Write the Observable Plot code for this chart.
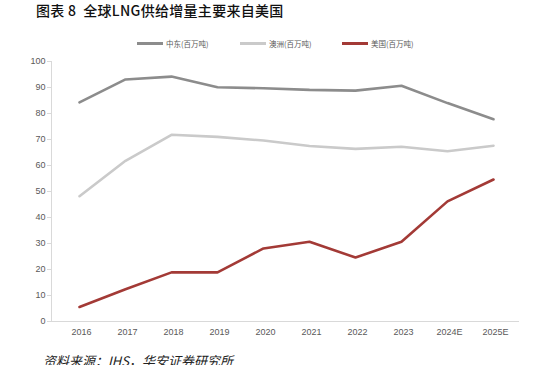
<!DOCTYPE html>
<html><head><meta charset="utf-8">
<script src="https://cdn.jsdelivr.net/npm/d3@7"></script>
<script src="https://cdn.jsdelivr.net/npm/@observablehq/plot@0.6"></script>
<style>
body{margin:0;width:533px;height:365px;overflow:hidden;background:#fff;position:relative;font-family:"Noto Sans CJK SC",sans-serif;}
#title{position:absolute;left:36px;top:0px;font-size:14px;font-weight:500;color:#111;letter-spacing:0.3px;white-space:pre;}
#legend{position:absolute;left:0;top:36px;width:533px;height:14px;font-size:7.5px;color:#595959;}
.li{position:absolute;top:0;display:flex;align-items:center;height:14px;}
.sw{width:26px;height:3px;margin-right:3px;}
#chart{position:absolute;left:0;top:0;}
#caption{position:absolute;left:43px;top:351px;font-size:13px;font-style:italic;color:#222;white-space:pre;}
</style></head>
<body>
<div id="chart"></div>
<div id="title">图表 8  全球LNG供给增量主要来自美国</div>
<div id="legend"></div>
<div id="caption">资料来源：IHS，华安证券研究所</div>
<script>
const years = ["2016","2017","2018","2019","2020","2021","2022","2023","2024E","2025E"];
const seriesNames = ["中东(百万吨)","澳洲(百万吨)","美国(百万吨)"];
const middleEast = [84.3, 93.1, 94.2, 90.1, 89.7, 89.1, 88.8, 90.7, 84.0, 77.8];
const australia  = [48.2, 61.8, 71.8, 71.0, 69.6, 67.5, 66.4, 67.2, 65.5, 67.6];
const usa        = [5.6, 12.4, 18.9, 18.9, 28.1, 30.7, 24.6, 30.7, 46.2, 54.6];
const colors = ["#8c8c8c","#cacaca","#a33a36"];
const yTicks = [0,10,20,30,40,50,60,70,80,90,100];

const allSeries = [middleEast, australia, usa];
const data = [];
allSeries.forEach((vals, si) => vals.forEach((v, i) => data.push({year: years[i], value: v, series: seriesNames[si]})));

const chart = Plot.plot({
  width: 533,
  height: 365,
  marginLeft: 51,
  marginRight: 15,
  marginTop: 61,
  marginBottom: 44,
  style: {fontFamily: "Liberation Sans, Arial, sans-serif", fontSize: "9px", color: "#595959", background: "transparent"},
  x: {type: "point", domain: years, padding: 0, range: [75, 496], label: null},
  y: {domain: [0, 100], label: null},
  color: {domain: seriesNames, range: colors},
  marks: [
    Plot.axisY({ticks: yTicks, tickSize: 4, tickPadding: 2, stroke: "#d9d9d9", label: null}),
    Plot.axisX({tickSize: 0, tickPadding: 7, dx: 2, label: null}),
    Plot.frame({anchor: "left", stroke: "#d9d9d9"}),
    Plot.frame({anchor: "bottom", stroke: "#d9d9d9"}),
    Plot.line(data, {x: "year", y: "value", z: "series", stroke: "series", strokeWidth: 2.6, strokeLinejoin: "miter"})
  ]
});
document.getElementById("chart").appendChild(chart);

const legend = document.getElementById("legend");
const lx = [137, 240, 342];
seriesNames.forEach((n, i) => {
  const d = document.createElement("div");
  d.className = "li";
  d.style.left = lx[i] + "px";
  d.innerHTML = `<div class="sw" style="background:${colors[i]}"></div><span>${n}</span>`;
  legend.appendChild(d);
});
</script>
</body></html>
